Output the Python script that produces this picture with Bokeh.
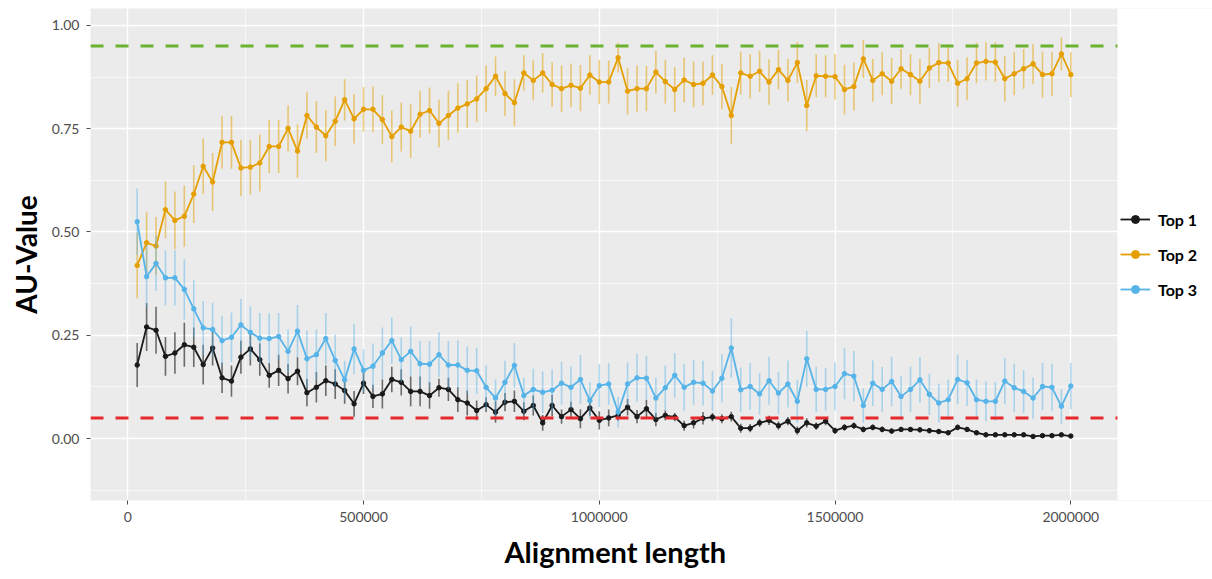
from bokeh.plotting import figure
from bokeh.models import (ColumnDataSource, Range1d, SingleIntervalTicker, BasicTickFormatter,
                          PrintfTickFormatter, Span, Legend, LegendItem, BoxAnnotation, Title)
from bokeh.embed import file_html
from bokeh.resources import INLINE

alignment_length = list(range(20000, 2000001, 20000))

top1 = [0.178, 0.270, 0.262, 0.199, 0.207, 0.227, 0.221, 0.179, 0.219, 0.147,
        0.139, 0.197, 0.217, 0.191, 0.153, 0.165, 0.145, 0.163, 0.111, 0.124,
        0.140, 0.132, 0.116, 0.084, 0.134, 0.102, 0.108, 0.143, 0.136, 0.114,
        0.114, 0.104, 0.123, 0.119, 0.094, 0.086, 0.068, 0.082, 0.064, 0.088,
        0.090, 0.066, 0.080, 0.038, 0.080, 0.053, 0.070, 0.048, 0.074, 0.044,
        0.050, 0.056, 0.076, 0.053, 0.072, 0.046, 0.056, 0.052, 0.031, 0.038,
        0.049, 0.052, 0.048, 0.053, 0.025, 0.025, 0.038, 0.044, 0.031, 0.042,
        0.019, 0.038, 0.030, 0.042, 0.019, 0.027, 0.031, 0.022, 0.027, 0.022,
        0.018, 0.022, 0.022, 0.021, 0.019, 0.017, 0.014, 0.027, 0.022, 0.014,
        0.009, 0.009, 0.009, 0.009, 0.009, 0.005, 0.007, 0.007, 0.009, 0.006]
top1_err = [0.053, 0.058, 0.057, 0.047, 0.05, 0.053, 0.048, 0.048, 0.042, 0.037,
            0.038, 0.04, 0.04, 0.039, 0.03, 0.038, 0.036, 0.034, 0.033, 0.037,
            0.037, 0.036, 0.032, 0.031, 0.026, 0.028, 0.035, 0.031, 0.032, 0.036,
            0.036, 0.032, 0.022, 0.028, 0.03, 0.03, 0.024, 0.018, 0.026, 0.022,
            0.026, 0.022, 0.024, 0.019, 0.026, 0.017, 0.019, 0.023, 0.019, 0.022,
            0.02, 0.013, 0.02, 0.016, 0.021, 0.016, 0.012, 0.01, 0.012, 0.014,
            0.015, 0.01, 0.011, 0.012, 0.011, 0.01, 0.01, 0.011, 0.01, 0.01,
            0.01, 0.011, 0.009, 0.01, 0.008, 0.008, 0.008, 0.007, 0.007, 0.007,
            0.006, 0.006, 0.006, 0.006, 0.006, 0.005, 0.005, 0.007, 0.005, 0.005,
            0.004, 0.004, 0.004, 0.004, 0.004, 0.003, 0.003, 0.003, 0.003, 0.003]

top2 = [0.419, 0.474, 0.466, 0.554, 0.528, 0.538, 0.592, 0.659, 0.621, 0.717,
        0.717, 0.655, 0.657, 0.667, 0.707, 0.707, 0.751, 0.696, 0.782, 0.754,
        0.733, 0.768, 0.820, 0.774, 0.797, 0.797, 0.772, 0.731, 0.754, 0.744,
        0.785, 0.794, 0.763, 0.782, 0.800, 0.810, 0.822, 0.847, 0.877, 0.835,
        0.813, 0.885, 0.867, 0.885, 0.857, 0.847, 0.855, 0.848, 0.880, 0.863,
        0.863, 0.922, 0.841, 0.847, 0.847, 0.887, 0.864, 0.845, 0.868, 0.857,
        0.860, 0.880, 0.852, 0.782, 0.885, 0.877, 0.889, 0.863, 0.893, 0.867,
        0.910, 0.806, 0.878, 0.877, 0.876, 0.845, 0.852, 0.919, 0.867, 0.883,
        0.865, 0.895, 0.881, 0.865, 0.897, 0.910, 0.909, 0.860, 0.871, 0.909,
        0.913, 0.911, 0.871, 0.883, 0.895, 0.907, 0.881, 0.883, 0.931, 0.881]
top2_err = [0.08, 0.075, 0.07, 0.069, 0.07, 0.074, 0.07, 0.067, 0.07, 0.064,
            0.064, 0.067, 0.066, 0.069, 0.064, 0.064, 0.056, 0.065, 0.056, 0.063,
            0.062, 0.06, 0.05, 0.06, 0.054, 0.055, 0.059, 0.063, 0.059, 0.065,
            0.057, 0.056, 0.058, 0.06, 0.06, 0.058, 0.056, 0.056, 0.048, 0.054,
            0.057, 0.043, 0.048, 0.048, 0.054, 0.056, 0.053, 0.056, 0.048, 0.054,
            0.052, 0.036, 0.056, 0.056, 0.055, 0.052, 0.053, 0.054, 0.054, 0.055,
            0.053, 0.048, 0.055, 0.069, 0.052, 0.054, 0.05, 0.055, 0.048, 0.052,
            0.05, 0.062, 0.052, 0.051, 0.055, 0.06, 0.058, 0.046, 0.052, 0.052,
            0.056, 0.048, 0.05, 0.054, 0.049, 0.047, 0.046, 0.057, 0.052, 0.049,
            0.046, 0.048, 0.055, 0.052, 0.048, 0.048, 0.056, 0.053, 0.04, 0.054]

top3 = [0.525, 0.392, 0.424, 0.389, 0.389, 0.361, 0.314, 0.268, 0.264, 0.237,
        0.245, 0.275, 0.257, 0.243, 0.242, 0.247, 0.211, 0.260, 0.193, 0.203,
        0.242, 0.189, 0.142, 0.217, 0.165, 0.175, 0.207, 0.237, 0.191, 0.211,
        0.181, 0.180, 0.203, 0.178, 0.178, 0.165, 0.164, 0.124, 0.098, 0.136,
        0.177, 0.104, 0.119, 0.112, 0.117, 0.134, 0.124, 0.143, 0.092, 0.128,
        0.132, 0.064, 0.132, 0.147, 0.146, 0.098, 0.123, 0.153, 0.124, 0.136,
        0.134, 0.115, 0.146, 0.219, 0.118, 0.126, 0.108, 0.140, 0.110, 0.132,
        0.090, 0.193, 0.119, 0.119, 0.126, 0.157, 0.151, 0.080, 0.134, 0.119,
        0.138, 0.102, 0.119, 0.142, 0.107, 0.086, 0.094, 0.143, 0.135, 0.094,
        0.090, 0.090, 0.139, 0.123, 0.114, 0.098, 0.126, 0.124, 0.078, 0.127]
top3_err = [0.08, 0.075, 0.067, 0.067, 0.067, 0.073, 0.069, 0.065, 0.065, 0.06,
            0.06, 0.063, 0.063, 0.061, 0.061, 0.057, 0.053, 0.063, 0.069, 0.061,
            0.062, 0.062, 0.046, 0.061, 0.051, 0.055, 0.062, 0.056, 0.054, 0.06,
            0.056, 0.056, 0.054, 0.058, 0.06, 0.057, 0.056, 0.053, 0.045, 0.052,
            0.054, 0.044, 0.05, 0.051, 0.05, 0.052, 0.051, 0.059, 0.044, 0.052,
            0.05, 0.037, 0.052, 0.058, 0.054, 0.049, 0.054, 0.054, 0.057, 0.054,
            0.054, 0.048, 0.058, 0.072, 0.054, 0.057, 0.05, 0.058, 0.051, 0.057,
            0.052, 0.068, 0.055, 0.052, 0.058, 0.062, 0.061, 0.042, 0.055, 0.054,
            0.06, 0.05, 0.055, 0.055, 0.05, 0.047, 0.049, 0.06, 0.056, 0.049,
            0.048, 0.047, 0.056, 0.058, 0.052, 0.05, 0.057, 0.057, 0.042, 0.056]

series_names = ["Top 1", "Top 2", "Top 3"]
upper_threshold = 0.95
lower_threshold = 0.05

colors = ["#1a1a1a", "#E69F00", "#56B4E9"]
bar_colors = ["#333333", "#E69F00", "#56B4E9"]
bar_alpha = [0.7, 0.5, 0.45]

FONT = "Lato"

# panel (ggplot-style expanded range) and the extra room for the legend to its right
panel_start, panel_end = -79000, 2099000
view_end = 2300500

p = figure(width=1212, height=579, output_backend="svg", toolbar_location=None,
           x_range=Range1d(panel_start, view_end), y_range=Range1d(-0.150, 1.041),
           min_border_left=90, min_border_right=0, min_border_top=8, min_border_bottom=79,
           background_fill_color="#EBEBEB", border_fill_color="white", outline_line_color=None)

# axes
p.xaxis.ticker = SingleIntervalTicker(interval=500000, num_minor_ticks=2)
p.xaxis.formatter = BasicTickFormatter(use_scientific=False)
p.xaxis.bounds = (panel_start, panel_end)
p.yaxis.ticker = SingleIntervalTicker(interval=0.25, num_minor_ticks=2)
p.yaxis.formatter = PrintfTickFormatter(format="%.2f")
for ax in (p.xaxis, p.yaxis):
    ax.axis_line_color = None
    ax.major_tick_line_color = "#4d4d4d"
    ax.major_tick_in = 0
    ax.major_tick_out = 4
    ax.minor_tick_line_color = None
    ax.major_label_text_font = FONT
    ax.major_label_text_font_size = "14px"
    ax.major_label_text_color = "#4d4d4d"
p.yaxis.axis_label = "AU-Value"
p.yaxis.axis_label_text_font = FONT
p.yaxis.axis_label_text_font_style = "bold"
p.yaxis.axis_label_text_color = "black"
p.yaxis.axis_label_text_font_size = "28px"
p.xaxis.major_label_standoff = 7
p.yaxis.major_label_standoff = 7
p.yaxis.axis_label_standoff = 6

# x-axis title, centred under the grey panel (not under the legend area)
p.add_layout(Title(text="Alignment length", align="left", offset=414,
                   text_font=FONT, text_font_style="bold", text_font_size="29px",
                   text_color="black", standoff=14), "below")

# grid
for g in (p.xgrid, p.ygrid):
    g.grid_line_color = "white"
    g.grid_line_width = 1.3
    g.minor_grid_line_color = "white"
    g.minor_grid_line_width = 0.6

# threshold lines
p.add_layout(Span(location=upper_threshold, dimension="width", line_color="#6AB22F",
                  line_width=3, line_dash="13 12"))
p.add_layout(Span(location=lower_threshold, dimension="width", line_color="#E8292B",
                  line_width=3, line_dash="13 12"))

items = []
for name, vals, errs, c, bc, ba in zip(series_names, [top1, top2, top3],
                                       [top1_err, top2_err, top3_err],
                                       colors, bar_colors, bar_alpha):
    src = ColumnDataSource(dict(x=alignment_length, y=vals,
                                lo=[v - e for v, e in zip(vals, errs)],
                                hi=[v + e for v, e in zip(vals, errs)]))
    p.segment(x0="x", y0="lo", x1="x", y1="hi", source=src, line_color=bc,
              line_alpha=ba, line_width=1.6)
    ln = p.line("x", "y", source=src, line_color=c, line_width=1.8)
    sc = p.scatter("x", "y", source=src, size=4.5, fill_color=c, line_color=c)
    items.append(LegendItem(label=name, renderers=[ln, sc]))

# white area right of the panel, for the legend
p.add_layout(BoxAnnotation(left=panel_end, fill_color="white", fill_alpha=1,
                           line_color=None))

legend = Legend(items=items, location=(1030, 201), orientation="vertical",
                border_line_color=None, background_fill_alpha=0,
                label_text_font=FONT, label_text_font_style="bold",
                label_text_font_size="16px", label_text_color="black",
                glyph_width=30, glyph_height=20, label_height=20, spacing=15,
                label_standoff=8, padding=2, margin=0)
p.add_layout(legend, "center")

open("out.html", "w").write(file_html(p, INLINE))
